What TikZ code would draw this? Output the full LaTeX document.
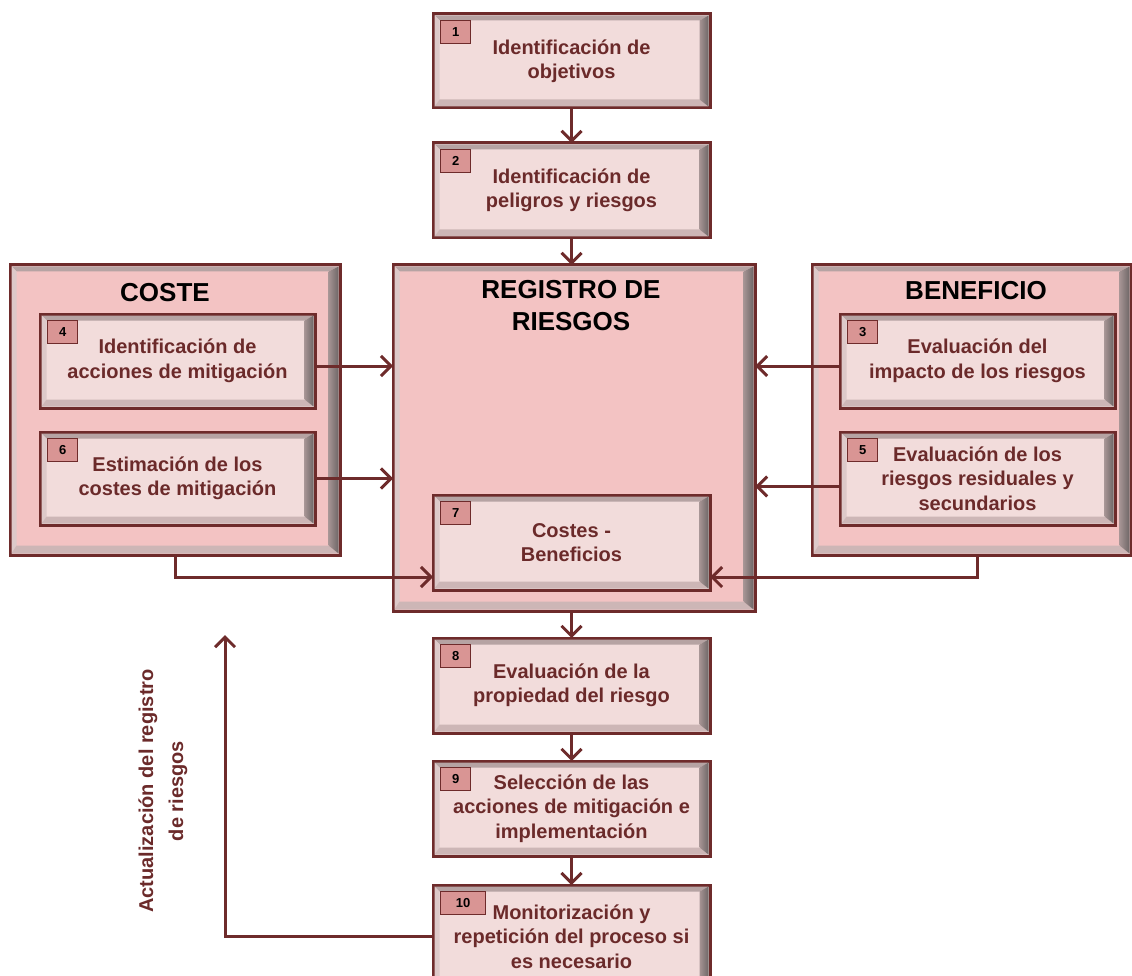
\documentclass[tikz,border=0pt]{standalone}
\usepackage{fontspec}
\setmainfont{Liberation Sans}
\usetikzlibrary{arrows.meta,calc}

\definecolor{maroon}{HTML}{6E2B2B}
\definecolor{txtred}{HTML}{6B2A2A}
\definecolor{facelight}{HTML}{F2DCDB}
\definecolor{facepink}{HTML}{F3C3C3}
\definecolor{badgefill}{HTML}{D99594}
\definecolor{bevtop}{HTML}{B6A3A3}
\definecolor{bevleft}{HTML}{DDC9C9}
\definecolor{bevbot}{HTML}{CDB6B6}
\definecolor{bevrA}{HTML}{A69494}
\definecolor{bevrB}{HTML}{6E6666}

\tikzset{
  panel/.style={draw=maroon, line width=3pt, inner sep=0pt, outer sep=0pt,
    rectangle, align=center, text=txtred,
    font=\bfseries\fontsize{20}{24.5}\selectfont},
  badge/.style={draw=maroon, line width=1.3pt, fill=badgefill, inner sep=0pt,
    minimum width=30pt, minimum height=23pt, text=black,
    font=\bfseries\fontsize{13}{13}\selectfont},
  heading/.style={text=black, font=\bfseries\fontsize{26}{32}\selectfont, align=center},
  arr/.style={draw=maroon, line width=3pt,
    -{Straight Barb[length=10pt, width=20pt, line width=3pt]}},
  link/.style={draw=maroon, line width=3pt},
}

% bevelled box: name, x1, y1, x2, y2, face colour, right/bottom bevel, text
\newcommand\bevbox[8]{%
  \node[panel, fill=#6, minimum width={#4-#2}, minimum height={#5-#3}]
    (#1) at ({(#2+#4)/2},{(#3+#5)/2}) {#8};
  \coordinate (bA) at ($(#1.north west)+(1.5,1.5)$);
  \coordinate (bB) at ($(#1.north east)+(-1.5,1.5)$);
  \coordinate (bC) at ($(#1.south east)+(-1.5,-1.5)$);
  \coordinate (bD) at ($(#1.south west)+(1.5,-1.5)$);
  \coordinate (iA) at ($(bA)+(5,5)$);
  \coordinate (iB) at ($(bB)+(-#7,5)$);
  \coordinate (iC) at ($(bC)+(-#7,{-(#7-2)})$);
  \coordinate (iD) at ($(bD)+(5,{-(#7-2)})$);
  \fill[bevtop] (bA) -- (bB) -- (iB) -- (iA) -- cycle;
  \fill[bevleft] (bA) -- (iA) -- (iD) -- (bD) -- cycle;
  \fill[bevbot] (bD) -- (iD) -- (iC) -- (bC) -- cycle;
  \shade[left color=bevrA, right color=bevrB] (bB) -- (bC) -- (iC) -- (iB) -- cycle;
}

\newcommand\numtag[3][30]{%
  \node[badge, minimum width=#1pt, anchor=north west] (#2tag)
    at ($(#2.north west)+(7,6)$) {#3};
}

\begin{document}
\begin{tikzpicture}[x=1pt, y=-1pt]
\clip (0,0) rectangle (1132,976);

% large frames
\bevbox{coste}{10}{265}{340}{555}{facepink}{10}{}
\bevbox{benef}{812}{265}{1131}{555}{facepink}{10}{}
\bevbox{reg}{393}{265}{755}{611}{facepink}{10}{}
\node[heading] (costeT) at (165,293) {COSTE};
\node[heading] (benefT) at (976,291) {BENEFICIO};
\node[heading] (regT) at (571,306) {REGISTRO DE\\RIESGOS};

% process steps
\bevbox{s1}{433}{14}{710}{108}{facelight}{9}{Identificación de\\objetivos}
\numtag{s1}{1}
\bevbox{s2}{433}{143}{710}{238}{facelight}{9}{Identificación de\\peligros y riesgos}
\numtag{s2}{2}
\bevbox{s4}{40}{314}{315}{408}{facelight}{9}{Identificación de\\acciones de mitigación}
\numtag{s4}{4}
\bevbox{s6}{40}{432}{315}{525}{facelight}{9}{Estimación de los\\costes de mitigación}
\numtag{s6}{6}
\bevbox{s3}{840}{314}{1115}{408}{facelight}{9}{Evaluación del\\impacto de los riesgos}
\numtag{s3}{3}
\bevbox{s5}{840}{432}{1115}{525}{facelight}{9}{Evaluación de los\\riesgos residuales y\\secundarios}
\numtag{s5}{5}
\bevbox{s7}{433}{495}{710}{590}{facelight}{9}{Costes -\\Beneficios}
\numtag{s7}{7}
\bevbox{s8}{433}{638}{710}{733}{facelight}{9}{Evaluación de la\\propiedad del riesgo}
\numtag{s8}{8}
\bevbox{s9}{433}{761}{710}{856}{facelight}{9}{Selección de las\\acciones de mitigación e\\implementación}
\numtag{s9}{9}
\bevbox{s10}{433}{885}{710}{988}{facelight}{9}{Monitorización y\\repetición del proceso si\\es necesario}
\numtag[45]{s10}{10}

% vertical caption of the feedback loop
\node[rotate=90, align=center, text=txtred,
  font=\bfseries\fontsize{20}{30}\selectfont] (upd) at (163,791)
  {Actualización del registro\\de riesgos};
\coordinate (fbend) at (225,635);

% main flow
\draw[arr] (s1.south) -- (s2.north);
\draw[arr] (s2.south) -- (s2.south |- reg.north);
\draw[arr] (s2.south |- reg.south) -- (s8.north);
\draw[arr] (s8.south) -- (s9.north);
\draw[arr] (s9.south) -- (s10.north);

% inputs to the register
\draw[arr] ($(s4.east)+(0,5)$) -- ($(s4.east -| reg.west)+(0,5)$);
\draw[arr] (s6.east) -- (s6.east -| reg.west);
\draw[arr] ($(s3.west)+(0,5)$) -- ($(s3.west -| reg.east)+(0,5)$);
\draw[arr] ($(s5.west)+(0,8)$) -- ($(s5.west -| reg.east)+(0,8)$);

% cost and benefit into step 7
\draw[arr] (coste.south) |- ($(s7.south west)+(0,-13)$);
\draw[arr] ($(benef.south)+(6,0)$) |- ($(s7.south east)+(0,-13)$);

% feedback loop
\draw[arr] (s10.west) -| (fbend);
\end{tikzpicture}
\end{document}
